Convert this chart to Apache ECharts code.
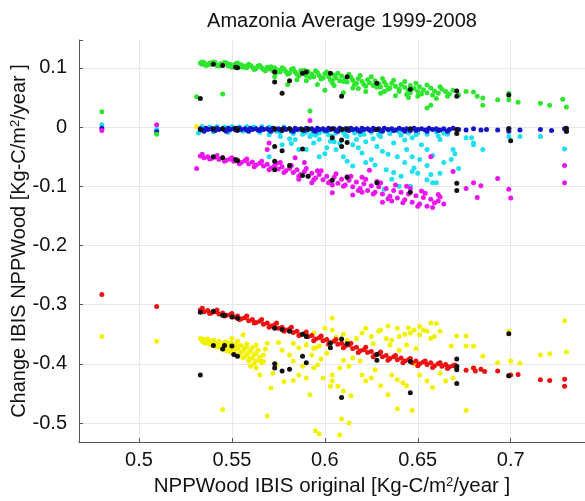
<!DOCTYPE html>
<html>
<head>
<meta charset="utf-8">
<script src="https://cdn.jsdelivr.net/npm/echarts@6.0.0/dist/echarts.min.js"></script>
<style>
  html, body { margin: 0; padding: 0; background: #fff; }
  #chart { width: 585px; height: 501px; }
</style>
</head>
<body>
<div id="chart"></div>
<script>
// tick labels
var xTickLabels = ['0.5', '0.55', '0.6', '0.65', '0.7'];
var yTickLabels = ['0.1', '0', '-0.1', '-0.2', '-0.3', '-0.4', '-0.5'];

// [NPPWood original, change] pairs
var yellowPts = [
  [0.48, -0.354], [0.5095, -0.362], [0.531, 0.001],
  [0.533, -0.357], [0.534, -0.362], [0.535, -0.359], [0.536, -0.365], [0.537, -0.358], [0.538, -0.362],
  [0.539, -0.368], [0.54, -0.36], [0.541, -0.365], [0.542, -0.371], [0.543, -0.362], [0.544, -0.367],
  [0.545, -0.374], [0.546, -0.364], [0.547, -0.37], [0.548, -0.378], [0.549, -0.365], [0.55, -0.372],
  [0.551, -0.381], [0.552, -0.367], [0.553, -0.375], [0.554, -0.384], [0.555, -0.369], [0.556, -0.378],
  [0.557, -0.388], [0.558, -0.371], [0.559, -0.381], [0.56, -0.391], [0.561, -0.373], [0.562, -0.384],
  [0.563, -0.395], [0.564, -0.377], [0.565, -0.389], [0.566, -0.398], [0.55, -0.357], [0.556, -0.351],
  [0.534, -0.358], [0.535, -0.364], [0.537, -0.361], [0.538, -0.367], [0.54, -0.364], [0.541, -0.37],
  [0.543, -0.366], [0.544, -0.373], [0.545, -0.368], [0.546, -0.377], [0.548, -0.37], [0.549, -0.38],
  [0.55, -0.366], [0.551, -0.376], [0.552, -0.385], [0.553, -0.37], [0.555, -0.38], [0.556, -0.39],
  [0.557, -0.374], [0.558, -0.385], [0.559, -0.395], [0.56, -0.378], [0.561, -0.39], [0.562, -0.4],
  [0.563, -0.382], [0.565, -0.394], [0.547, -0.363], [0.553, -0.362], [0.558, -0.366], [0.563, -0.368],
  [0.567, -0.385], [0.568, -0.375],
  [0.545, -0.477], [0.569, -0.488], [0.592, -0.452], [0.569, -0.365], [0.575, -0.364], [0.577, -0.377],
  [0.583, -0.365], [0.586, -0.373], [0.565, -0.419], [0.572, -0.416], [0.583, -0.428], [0.586, -0.419],
  [0.59, -0.424], [0.56, -0.404], [0.563, -0.407], [0.567, -0.396], [0.574, -0.402], [0.581, -0.385],
  [0.583, -0.395], [0.593, -0.385], [0.595, -0.373], [0.604, -0.323], [0.6, -0.34], [0.604, -0.343],
  [0.594, -0.348], [0.59, -0.368], [0.594, -0.374], [0.597, -0.37], [0.601, -0.382], [0.588, -0.404],
  [0.594, -0.407], [0.596, -0.402], [0.599, -0.424], [0.604, -0.419], [0.608, -0.407], [0.604, -0.429],
  [0.607, -0.438], [0.61, -0.446], [0.603, -0.438], [0.614, -0.454], [0.62, -0.419], [0.622, -0.429],
  [0.625, -0.424], [0.63, -0.437], [0.634, -0.452], [0.636, -0.419], [0.639, -0.427], [0.642, -0.432],
  [0.644, -0.437], [0.615, -0.39], [0.619, -0.395], [0.61, -0.394], [0.613, -0.404], [0.617, -0.357],
  [0.62, -0.348], [0.625, -0.354], [0.629, -0.345], [0.633, -0.357], [0.636, -0.36], [0.64, -0.354],
  [0.646, -0.348], [0.648, -0.343], [0.651, -0.351], [0.655, -0.345], [0.657, -0.357], [0.659, -0.354],
  [0.66, -0.332], [0.639, -0.34], [0.63, -0.343], [0.635, -0.368], [0.644, -0.368], [0.649, -0.374],
  [0.64, -0.377], [0.651, -0.337], [0.651, -0.419], [0.655, -0.429], [0.665, -0.429], [0.662, -0.416],
  [0.668, -0.37], [0.671, -0.353], [0.676, -0.37], [0.68, -0.37], [0.685, -0.387], [0.68, -0.407],
  [0.669, -0.424], [0.7, -0.395], [0.705, -0.399], [0.676, -0.353], [0.693, -0.398], [0.699, -0.345],
  [0.716, -0.385], [0.721, -0.383], [0.73, -0.38], [0.729, -0.327], [0.676, -0.479], [0.647, -0.479],
  [0.639, -0.476], [0.613, -0.5], [0.608, -0.52], [0.609, -0.493], [0.595, -0.513], [0.597, -0.518],
  [0.657, -0.331], [0.612, -0.36], [0.626, -0.366], [0.643, -0.35], [0.662, -0.345], [0.606, -0.355],
  [0.571, -0.441], [0.578, -0.43], [0.598, -0.392], [0.627, -0.41], [0.648, -0.4], [0.658, -0.44],
  [0.622, -0.34], [0.634, -0.336], [0.645, -0.339], [0.653, -0.343], [0.61, -0.35], [0.6, -0.36]
];
var redPts = [
  [0.48, -0.283], [0.5095, -0.303],
  [0.533, -0.309], [0.535, -0.312], [0.537, -0.31], [0.539, -0.314], [0.541, -0.312], [0.543, -0.316],
  [0.545, -0.314], [0.547, -0.318], [0.549, -0.317], [0.551, -0.321], [0.553, -0.319], [0.555, -0.324],
  [0.557, -0.322], [0.559, -0.327], [0.561, -0.325], [0.563, -0.33], [0.565, -0.328], [0.567, -0.333],
  [0.569, -0.331], [0.571, -0.336], [0.573, -0.334], [0.575, -0.34], [0.577, -0.338], [0.579, -0.343],
  [0.581, -0.341], [0.583, -0.347], [0.585, -0.345], [0.587, -0.351], [0.589, -0.349], [0.591, -0.354],
  [0.593, -0.352], [0.595, -0.358], [0.597, -0.356], [0.599, -0.361], [0.601, -0.359], [0.603, -0.364],
  [0.605, -0.362], [0.607, -0.367], [0.609, -0.365], [0.611, -0.37], [0.613, -0.368], [0.615, -0.374],
  [0.617, -0.372], [0.619, -0.378], [0.621, -0.376], [0.623, -0.381], [0.625, -0.379], [0.627, -0.385],
  [0.629, -0.383], [0.631, -0.388], [0.633, -0.386], [0.635, -0.391], [0.637, -0.388], [0.639, -0.393],
  [0.641, -0.39], [0.643, -0.395], [0.645, -0.393], [0.647, -0.398], [0.649, -0.395], [0.651, -0.4],
  [0.653, -0.397], [0.655, -0.401], [0.657, -0.398], [0.659, -0.403], [0.661, -0.4], [0.663, -0.404],
  [0.665, -0.401], [0.667, -0.405], [0.669, -0.403], [0.671, -0.407],
  [0.534, -0.306], [0.538, -0.315], [0.542, -0.309], [0.546, -0.319], [0.55, -0.315], [0.554, -0.325],
  [0.558, -0.319], [0.562, -0.331], [0.566, -0.325], [0.57, -0.338], [0.574, -0.331], [0.578, -0.345],
  [0.582, -0.338], [0.586, -0.352], [0.59, -0.346], [0.594, -0.361], [0.598, -0.353], [0.602, -0.367],
  [0.606, -0.359], [0.61, -0.373], [0.614, -0.365], [0.618, -0.381], [0.622, -0.372], [0.626, -0.388],
  [0.63, -0.38], [0.634, -0.394], [0.638, -0.386], [0.642, -0.398], [0.646, -0.391], [0.65, -0.403],
  [0.654, -0.395], [0.658, -0.406], [0.662, -0.398], [0.666, -0.408], [0.67, -0.402],
  [0.676, -0.411], [0.68, -0.407], [0.681, -0.412], [0.684, -0.409], [0.686, -0.413], [0.693, -0.412],
  [0.699, -0.42], [0.7, -0.419], [0.704, -0.418], [0.716, -0.427], [0.721, -0.428], [0.729, -0.426],
  [0.729, -0.438]
];
var cyanPts = [
  [0.48, 0.004], [0.5095, -0.004], [0.532, -0.01],
  [0.534, 0.001], [0.538, 0.0], [0.542, 0.001], [0.546, 0.0], [0.55, 0.001], [0.554, 0.0], [0.558, 0.001],
  [0.562, 0.0], [0.566, 0.001], [0.57, 0.0], [0.578, 0.0], [0.54, -0.008], [0.548, -0.009], [0.556, -0.007],
  [0.565, -0.009], [0.574, -0.007], [0.582, -0.008], [0.586, -0.005], [0.59, -0.009], [0.598, -0.006],
  [0.6, -0.008], [0.61, -0.009], [0.62, -0.007], [0.63, -0.009], [0.64, -0.008], [0.65, -0.01], [0.66, -0.008],
  [0.576, -0.009], [0.583, -0.011], [0.589, -0.008], [0.593, -0.012], [0.597, -0.01], [0.602, -0.013],
  [0.606, -0.01], [0.611, -0.014], [0.616, -0.01], [0.621, -0.012], [0.625, -0.009], [0.629, -0.013],
  [0.635, -0.011], [0.641, -0.014], [0.645, -0.01], [0.649, -0.013], [0.655, -0.012], [0.661, -0.015],
  [0.664, -0.01],
  [0.57, -0.013], [0.576, -0.016], [0.581, -0.02], [0.57, -0.05], [0.577, -0.03], [0.584, -0.021],
  [0.586, -0.038], [0.592, -0.016], [0.594, -0.027], [0.597, -0.05], [0.601, -0.035], [0.606, -0.038],
  [0.615, -0.066], [0.615, -0.03], [0.62, -0.044], [0.622, -0.025], [0.625, -0.055], [0.628, -0.033],
  [0.631, -0.041], [0.633, -0.072], [0.637, -0.027], [0.639, -0.05], [0.641, -0.083], [0.644, -0.038],
  [0.647, -0.018], [0.648, -0.069], [0.651, -0.055], [0.655, -0.089], [0.655, -0.038], [0.657, -0.08],
  [0.66, -0.094], [0.662, -0.021], [0.664, -0.06], [0.669, -0.038], [0.68, -0.027], [0.64, -0.1],
  [0.632, -0.105], [0.59, -0.038], [0.597, -0.021], [0.61, -0.05], [0.612, -0.016], [0.617, -0.021],
  [0.604, -0.016], [0.63, -0.016], [0.619, -0.013], [0.647, -0.05], [0.637, -0.077], [0.622, -0.06],
  [0.646, -0.1], [0.676, -0.018], [0.679, -0.018], [0.685, -0.038], [0.699, -0.016], [0.705, -0.016],
  [0.716, -0.016], [0.729, -0.037], [0.68, -0.03], [0.668, -0.055], [0.658, -0.094], [0.647, -0.075],
  [0.588, -0.012], [0.595, -0.014], [0.603, -0.024], [0.608, -0.028], [0.626, -0.02], [0.634, -0.046],
  [0.643, -0.022], [0.652, -0.03], [0.658, -0.048], [0.666, -0.012], [0.672, -0.07], [0.662, -0.078],
  [0.582, -0.028], [0.6, -0.045], [0.612, -0.058], [0.627, -0.064], [0.636, -0.088], [0.65, -0.078],
  [0.618, -0.035], [0.643, -0.06], [0.655, -0.065], [0.67, -0.045], [0.605, -0.025]
];
var bluePts = [
  [0.48, -0.002], [0.5095, -0.008],
  [0.533, -0.003], [0.534, -0.005], [0.536, -0.002], [0.537, -0.004], [0.539, -0.003], [0.54, -0.005],
  [0.542, -0.002], [0.543, -0.004], [0.545, -0.003], [0.546, -0.005], [0.548, -0.002], [0.549, -0.004],
  [0.551, -0.003], [0.552, -0.005], [0.554, -0.002], [0.555, -0.004], [0.557, -0.003], [0.558, -0.005],
  [0.56, -0.002], [0.561, -0.004], [0.563, -0.003], [0.564, -0.005], [0.566, -0.002], [0.567, -0.004],
  [0.569, -0.003], [0.57, -0.005], [0.572, -0.002], [0.573, -0.004], [0.575, -0.003], [0.576, -0.005],
  [0.578, -0.002], [0.579, -0.004], [0.581, -0.003], [0.582, -0.006], [0.584, -0.002], [0.585, -0.004],
  [0.587, -0.003], [0.588, -0.005], [0.59, -0.002], [0.591, -0.004], [0.593, -0.003], [0.594, -0.006],
  [0.596, -0.002], [0.597, -0.004], [0.599, -0.003], [0.6, -0.005], [0.602, -0.002], [0.603, -0.004],
  [0.605, -0.003], [0.606, -0.006], [0.608, -0.002], [0.609, -0.004], [0.611, -0.003], [0.612, -0.005],
  [0.614, -0.002], [0.615, -0.004], [0.617, -0.003], [0.618, -0.006], [0.62, -0.002], [0.621, -0.004],
  [0.623, -0.003], [0.624, -0.005], [0.626, -0.002], [0.627, -0.004], [0.629, -0.003], [0.63, -0.006],
  [0.632, -0.002], [0.634, -0.004], [0.636, -0.003], [0.638, -0.005], [0.64, -0.002], [0.642, -0.004],
  [0.644, -0.003], [0.646, -0.006], [0.648, -0.002], [0.65, -0.004], [0.652, -0.003], [0.654, -0.005],
  [0.656, -0.002], [0.658, -0.004], [0.66, -0.003], [0.662, -0.005], [0.664, -0.003], [0.667, -0.004],
  [0.669, -0.002],
  [0.535, -0.007], [0.541, -0.006], [0.547, -0.007], [0.553, -0.006], [0.559, -0.007], [0.565, -0.006],
  [0.571, -0.007], [0.577, -0.006], [0.583, -0.007], [0.589, -0.006], [0.595, -0.007], [0.601, -0.006],
  [0.607, -0.007], [0.613, -0.006], [0.619, -0.007], [0.625, -0.006], [0.631, -0.007], [0.637, -0.006],
  [0.643, -0.007], [0.649, -0.006], [0.655, -0.007], [0.661, -0.006], [0.666, -0.007],
  [0.672, -0.004], [0.676, -0.005], [0.68, -0.003], [0.684, -0.005], [0.687, -0.004], [0.693, -0.005],
  [0.699, -0.003], [0.699, -0.007], [0.705, -0.005], [0.716, -0.004], [0.722, -0.006], [0.729, -0.003],
  [0.73, -0.007]
];
var greenPts = [
  [0.48, 0.026], [0.5095, -0.012], [0.531, 0.051], [0.545, 0.056],
  [0.533, 0.108], [0.534, 0.106], [0.535, 0.109], [0.537, 0.105], [0.538, 0.108], [0.539, 0.106],
  [0.541, 0.109], [0.542, 0.104], [0.544, 0.107], [0.545, 0.105], [0.547, 0.108], [0.548, 0.103],
  [0.549, 0.106], [0.551, 0.104], [0.552, 0.107], [0.554, 0.102], [0.555, 0.105], [0.557, 0.103],
  [0.558, 0.1], [0.56, 0.104], [0.561, 0.101], [0.563, 0.099], [0.564, 0.103], [0.566, 0.1],
  [0.567, 0.097], [0.569, 0.101], [0.57, 0.098], [0.572, 0.095], [0.573, 0.1], [0.575, 0.096],
  [0.576, 0.093], [0.578, 0.098], [0.579, 0.094], [0.581, 0.091], [0.582, 0.097], [0.584, 0.093],
  [0.585, 0.089], [0.587, 0.095], [0.588, 0.09], [0.59, 0.087], [0.591, 0.094], [0.593, 0.089],
  [0.594, 0.085], [0.596, 0.092], [0.597, 0.087], [0.599, 0.083], [0.6, 0.09], [0.602, 0.085],
  [0.603, 0.08], [0.605, 0.088], [0.606, 0.083], [0.608, 0.078], [0.609, 0.086], [0.611, 0.081],
  [0.612, 0.076], [0.614, 0.084], [0.615, 0.079], [0.617, 0.074], [0.618, 0.082], [0.62, 0.077],
  [0.621, 0.072], [0.623, 0.08], [0.624, 0.075], [0.626, 0.07], [0.627, 0.078], [0.629, 0.073],
  [0.63, 0.068], [0.632, 0.076], [0.633, 0.071], [0.635, 0.066], [0.636, 0.074], [0.638, 0.069],
  [0.64, 0.064], [0.641, 0.072], [0.643, 0.067], [0.645, 0.062], [0.646, 0.07], [0.648, 0.065],
  [0.65, 0.06], [0.651, 0.068], [0.653, 0.063], [0.655, 0.058], [0.657, 0.066], [0.659, 0.061],
  [0.661, 0.057], [0.663, 0.064], [0.665, 0.06], [0.667, 0.056], [0.669, 0.062],
  [0.534, 0.11], [0.536, 0.104], [0.54, 0.11], [0.543, 0.103], [0.546, 0.109], [0.55, 0.101],
  [0.553, 0.108], [0.556, 0.101], [0.559, 0.106], [0.562, 0.097], [0.565, 0.104], [0.568, 0.095],
  [0.571, 0.102], [0.574, 0.092], [0.577, 0.1], [0.58, 0.089], [0.583, 0.099], [0.586, 0.086],
  [0.589, 0.096], [0.592, 0.084], [0.595, 0.095], [0.598, 0.081], [0.601, 0.093], [0.604, 0.079],
  [0.607, 0.091], [0.61, 0.077], [0.613, 0.089], [0.616, 0.072], [0.619, 0.087], [0.622, 0.069],
  [0.625, 0.085], [0.628, 0.067], [0.631, 0.082], [0.634, 0.064], [0.637, 0.079], [0.64, 0.06],
  [0.643, 0.077], [0.646, 0.058], [0.649, 0.074], [0.652, 0.056], [0.655, 0.071], [0.658, 0.054],
  [0.662, 0.068], [0.666, 0.052], [0.59, 0.078], [0.605, 0.07], [0.618, 0.065], [0.632, 0.06],
  [0.644, 0.055], [0.65, 0.052],
  [0.573, 0.085], [0.58, 0.072], [0.585, 0.08], [0.592, 0.027], [0.596, 0.072], [0.6, 0.062],
  [0.604, 0.075], [0.61, 0.058], [0.615, 0.066], [0.622, 0.06], [0.63, 0.057], [0.638, 0.053],
  [0.645, 0.05], [0.655, 0.032], [0.657, 0.037], [0.66, 0.048],
  [0.672, 0.054], [0.676, 0.06], [0.68, 0.059], [0.682, 0.052], [0.685, 0.049], [0.685, 0.037],
  [0.693, 0.046], [0.699, 0.057], [0.699, 0.046], [0.704, 0.042], [0.716, 0.04], [0.721, 0.037],
  [0.728, 0.047], [0.73, 0.034]
];
var magentaPts = [
  [0.48, -0.006], [0.5095, 0.004], [0.531, -0.07], [0.592, 0.011],
  [0.533, -0.049], [0.535, -0.052], [0.537, -0.05], [0.539, -0.053], [0.541, -0.051], [0.543, -0.055],
  [0.545, -0.052], [0.547, -0.056], [0.549, -0.054], [0.551, -0.058], [0.553, -0.056], [0.555, -0.06],
  [0.557, -0.057], [0.559, -0.062], [0.561, -0.059], [0.563, -0.064], [0.565, -0.061], [0.567, -0.066],
  [0.569, -0.063], [0.571, -0.069], [0.573, -0.065], [0.575, -0.071], [0.577, -0.067], [0.579, -0.074],
  [0.581, -0.07], [0.583, -0.077], [0.585, -0.072], [0.587, -0.08], [0.589, -0.075], [0.591, -0.083],
  [0.593, -0.078], [0.595, -0.086], [0.597, -0.08], [0.599, -0.089], [0.601, -0.083], [0.603, -0.092],
  [0.605, -0.085], [0.607, -0.095], [0.609, -0.088], [0.611, -0.098], [0.613, -0.09], [0.615, -0.101],
  [0.617, -0.093], [0.619, -0.104], [0.621, -0.096], [0.623, -0.107], [0.625, -0.099], [0.627, -0.11],
  [0.629, -0.101], [0.631, -0.113], [0.633, -0.104], [0.635, -0.117], [0.637, -0.107], [0.639, -0.12],
  [0.641, -0.11], [0.643, -0.123], [0.645, -0.113], [0.647, -0.127], [0.649, -0.116], [0.651, -0.13],
  [0.653, -0.119], [0.655, -0.134], [0.657, -0.122], [0.659, -0.128], [0.661, -0.125],
  [0.534, -0.046], [0.538, -0.054], [0.542, -0.048], [0.546, -0.058], [0.55, -0.052], [0.554, -0.062],
  [0.558, -0.054], [0.562, -0.067], [0.566, -0.058], [0.57, -0.072], [0.574, -0.061], [0.578, -0.077],
  [0.582, -0.065], [0.586, -0.083], [0.59, -0.07], [0.594, -0.089], [0.598, -0.074], [0.602, -0.094],
  [0.606, -0.079], [0.61, -0.1], [0.614, -0.083], [0.618, -0.107], [0.622, -0.088], [0.626, -0.113],
  [0.63, -0.094], [0.634, -0.121], [0.638, -0.098], [0.642, -0.128], [0.646, -0.104], [0.65, -0.134],
  [0.654, -0.112], [0.658, -0.136], [0.662, -0.118], [0.664, -0.13],
  [0.586, -0.088], [0.596, -0.074], [0.604, -0.098], [0.612, -0.084], [0.62, -0.11], [0.628, -0.092],
  [0.636, -0.125], [0.644, -0.1], [0.652, -0.108],
  [0.57, -0.027], [0.569, -0.038], [0.576, -0.06], [0.584, -0.052], [0.604, -0.111], [0.615, -0.115],
  [0.62, -0.085], [0.624, -0.073], [0.631, -0.127], [0.669, -0.075], [0.676, -0.104], [0.68, -0.094],
  [0.682, -0.119], [0.661, -0.114], [0.657, -0.05], [0.684, -0.099], [0.693, -0.087], [0.699, -0.105],
  [0.7, -0.12], [0.729, -0.065], [0.729, -0.094], [0.593, -0.094], [0.589, -0.06]
];
var blackPts = [
  [0.54, 0.106], [0.545, 0.104], [0.552, 0.101], [0.553, 0.1], [0.573, 0.093], [0.573, 0.076],
  [0.577, 0.057], [0.581, 0.078], [0.588, 0.091], [0.59, 0.093], [0.603, 0.091], [0.609, 0.052],
  [0.612, 0.085], [0.628, 0.074], [0.646, 0.064], [0.671, 0.061], [0.671, 0.052], [0.699, 0.054],
  [0.533, 0.048],
  [0.533, -0.004], [0.54, -0.003], [0.545, -0.003], [0.552, -0.002], [0.553, -0.004], [0.573, -0.003],
  [0.577, -0.004], [0.581, -0.003], [0.588, -0.004], [0.591, -0.003], [0.604, -0.003], [0.609, -0.004],
  [0.612, -0.003], [0.628, -0.004], [0.646, -0.003], [0.671, -0.004], [0.699, -0.003], [0.73, -0.002],
  [0.73, -0.007],
  [0.573, -0.033], [0.577, -0.04], [0.588, -0.037], [0.604, -0.018], [0.609, -0.022], [0.609, -0.033],
  [0.612, -0.026], [0.573, -0.058], [0.581, -0.065], [0.671, -0.011], [0.7, -0.023],
  [0.54, -0.05], [0.545, -0.052], [0.552, -0.055], [0.553, -0.057], [0.573, -0.072], [0.588, -0.082],
  [0.591, -0.083], [0.604, -0.09], [0.612, -0.085], [0.628, -0.094], [0.646, -0.11], [0.671, -0.095],
  [0.671, -0.107],
  [0.533, -0.313], [0.54, -0.311], [0.545, -0.318], [0.546, -0.318], [0.55, -0.321], [0.553, -0.323],
  [0.573, -0.34], [0.577, -0.342], [0.581, -0.345], [0.588, -0.35], [0.59, -0.354], [0.609, -0.358],
  [0.612, -0.366], [0.628, -0.384], [0.646, -0.396], [0.671, -0.392], [0.671, -0.404], [0.671, -0.41],
  [0.699, -0.349], [0.699, -0.42],
  [0.533, -0.419], [0.54, -0.369], [0.545, -0.375], [0.546, -0.369], [0.55, -0.37], [0.551, -0.384],
  [0.553, -0.387], [0.573, -0.4], [0.573, -0.407], [0.577, -0.412], [0.581, -0.409], [0.588, -0.387],
  [0.59, -0.398], [0.603, -0.365], [0.603, -0.373], [0.609, -0.457], [0.628, -0.394], [0.646, -0.449],
  [0.671, -0.433]
];

var myChart = echarts.init(document.getElementById('chart'));

function dots(name, data, color) {
  return {
    name: name,
    type: 'scatter',
    data: data,
    symbolSize: 5,
    itemStyle: { color: color, opacity: 1 },
    emphasis: { disabled: true },
    silent: true
  };
}

function pickLabel(list) {
  return function (v) {
    var s = String(+v.toFixed(4));
    return list.indexOf(s) >= 0 ? s : '';
  };
}

var labelFont = 'Liberation Sans, Arial, sans-serif';
var gridColor = '#e8e8e8';

myChart.setOption({
  animation: false,
  backgroundColor: '#fff',
  title: {
    text: 'Amazonia Average 1999-2008',
    left: 337,
    top: 6,
    textAlign: 'center',
    textStyle: { color: '#111', fontSize: 20, fontWeight: 'normal', fontFamily: labelFont }
  },
  grid: { left: 79, right: 0, top: 40, bottom: 59, outerBoundsMode: 'none' },
  xAxis: {
    type: 'value',
    min: 0.4677,
    max: 0.74,
    splitNumber: 5,
    name: 'NPPWood IBIS original [Kg-C/m{sup|2}/year ]',
    nameLocation: 'middle',
    nameGap: 34,
    nameMoveOverlap: false,
    nameTextStyle: {
      color: '#111', fontSize: 20.5, fontFamily: labelFont,
      rich: { sup: { fontSize: 13, verticalAlign: 'top', lineHeight: 12, fontFamily: labelFont, color: '#111' } }
    },
    axisLine: { show: true, onZero: false, lineStyle: { color: '#555', width: 1 } },
    axisTick: { show: true, inside: true, length: 4, lineStyle: { color: '#555' } },
    axisLabel: { color: '#111', fontSize: 20, fontFamily: labelFont, margin: 8, formatter: pickLabel(xTickLabels) },
    splitLine: { show: true, lineStyle: { color: gridColor, width: 1 } }
  },
  yAxis: {
    type: 'value',
    min: -0.532,
    max: 0.147,
    splitNumber: 7,
    name: 'Change IBIS NPPWood [Kg-C/m{sup|2}/year ]',
    nameLocation: 'middle',
    nameRotate: 90,
    nameGap: 50,
    nameMoveOverlap: false,
    nameTextStyle: {
      color: '#111', fontSize: 20, fontFamily: labelFont,
      rich: { sup: { fontSize: 13, verticalAlign: 'top', lineHeight: 12, fontFamily: labelFont, color: '#111' } }
    },
    axisLine: { show: true, onZero: false, lineStyle: { color: '#555', width: 1 } },
    axisTick: { show: true, inside: true, length: 4, lineStyle: { color: '#555' } },
    axisLabel: { color: '#111', fontSize: 20, fontFamily: labelFont, margin: 12, formatter: pickLabel(yTickLabels) },
    splitLine: {
      show: true,
      lineStyle: { color: [gridColor, gridColor, gridColor, gridColor, gridColor, gridColor, gridColor, gridColor, 'rgba(0,0,0,0)'], width: 1 }
    }
  },
  series: [
    dots('yellow', yellowPts, '#f2f200'),
    dots('red', redPts, '#ee1111'),
    dots('cyan', cyanPts, '#1ee0ee'),
    dots('blue', bluePts, '#1414c8'),
    dots('green', greenPts, '#2fe62f'),
    dots('magenta', magentaPts, '#ee16ee'),
    dots('black', blackPts, '#111111')
  ]
});
</script>
</body>
</html>
